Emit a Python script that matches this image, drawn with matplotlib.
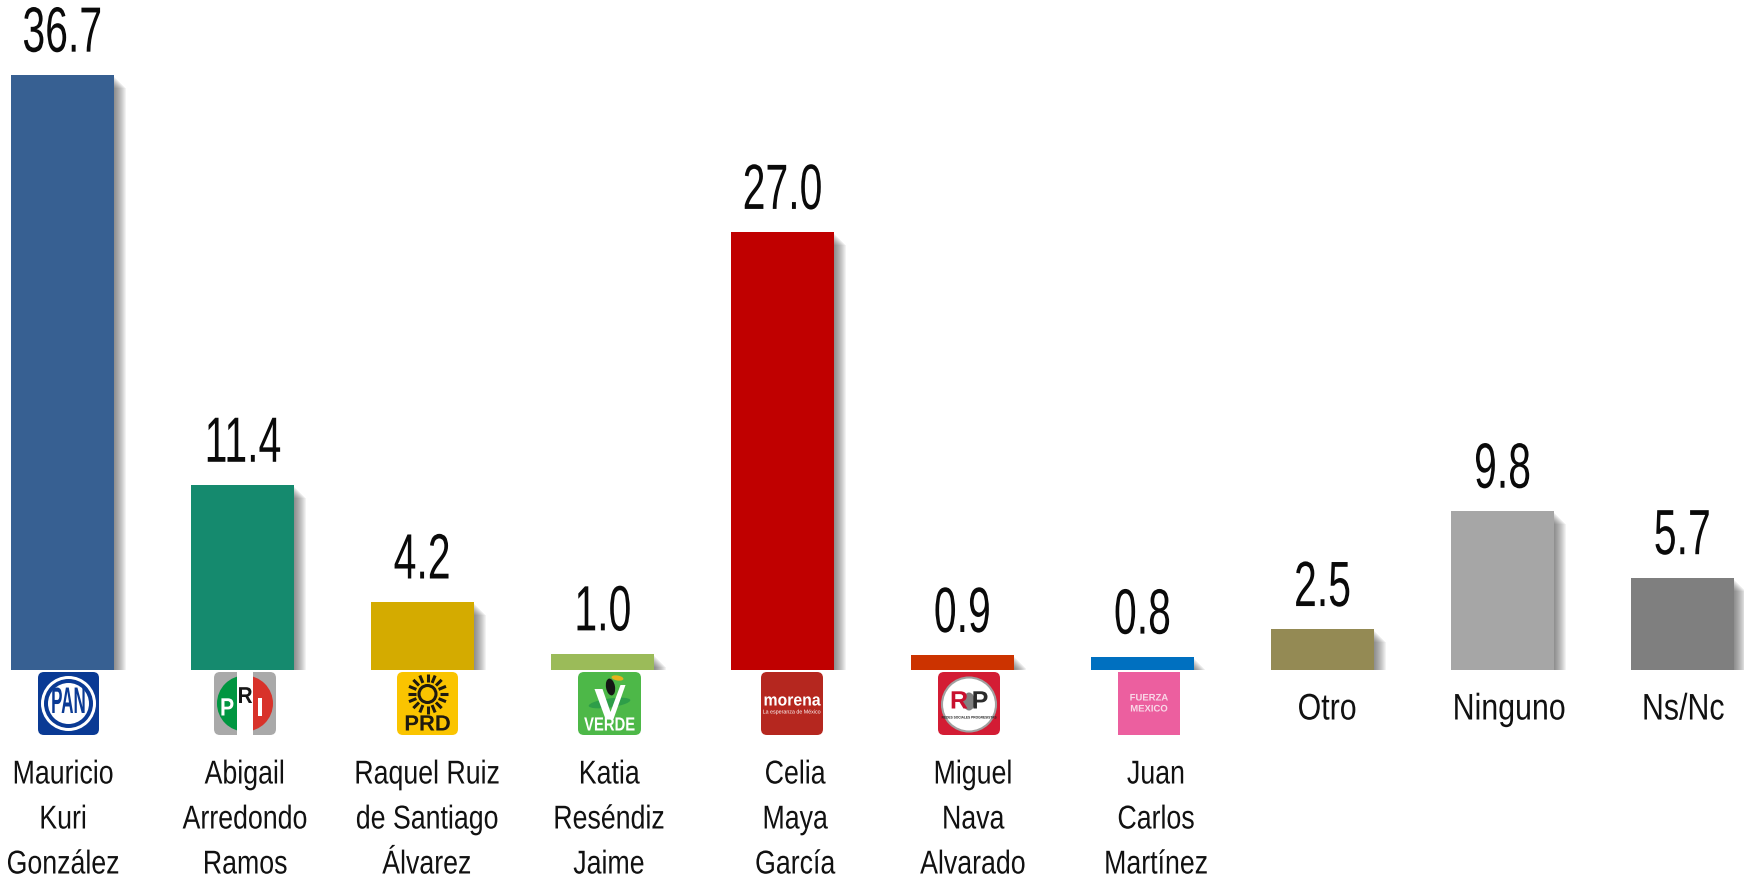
import numpy as np
import matplotlib
matplotlib.use("Agg")
import matplotlib.pyplot as plt
from matplotlib.patches import FancyBboxPatch, Circle, Wedge, Rectangle, Polygon, Ellipse
from matplotlib.patheffects import AbstractPathEffect
from matplotlib.transforms import Affine2D

W, H = 1744, 879
names = ["Mauricio\nKuri\nGonzález", "Abigail\nArredondo\nRamos", "Raquel Ruiz\nde Santiago\nÁlvarez",
         "Katia\nReséndiz\nJaime", "Celia\nMaya\nGarcía", "Miguel\nNava\nAlvarado",
         "Juan\nCarlos\nMartínez", "Otro", "Ninguno", "Ns/Nc"]
values = [36.7, 11.4, 4.2, 1.0, 27.0, 0.9, 0.8, 2.5, 9.8, 5.7]
colors = ["#376092", "#158A6E", "#D4AB00", "#9BBB59", "#C00000", "#CC3300", "#0070C0", "#948A54", "#A6A6A6", "#7F7F7F"]
name_x = [63, 245, 427, 609, 795, 973, 1156, 1327, 1509, 1683]

px_x = 1 / 180      # one pixel in category units
px_y = 1 / 16.21    # one pixel in value units


class Squeeze(AbstractPathEffect):
    # narrows a text around its own centre, the fonts here have no condensed cut
    # dx moves the ink back when the layout box was moved off the figure edge
    def __init__(self, sx, dx=0):
        super().__init__()
        self.sx = sx
        self.dx = dx

    def draw_path(self, renderer, gc, tpath, affine, rgbFace=None):
        ext = tpath.get_extents()
        cx = (ext.x0 + ext.x1) / 2
        aff = Affine2D().translate(-cx, 0).scale(self.sx, 1).translate(cx, 0) + affine
        aff = aff + Affine2D().translate(self.dx, 0)
        renderer.draw_path(gc, tpath, aff, rgbFace)


def fs(px):
    return px * 72 / 100


fig = plt.figure(figsize=(W / 100, H / 100), dpi=100, facecolor="white")
ax = fig.add_axes([0, (H - 671) / H, 1, 671 / H])
ax.set_xlim(-62.5 / 180, (W - 62.5) / 180)
ax.set_ylim(0, 671 * px_y)
ax.axis("off")

xs = np.arange(len(values))
bar_w = 103 / 180
for k in range(1, 13):
    # stacked see-through bars make the soft shadow on the right
    ax.bar(xs + k * px_x / 2, [max(v - (k + 1) * px_y, 0) for v in values], bar_w + k * px_x,
           color="#303030", alpha=0.06, linewidth=0, zorder=1)
ax.bar(xs, values, bar_w, color=colors, linewidth=0, zorder=2)

for x, v in zip(xs, values):
    ax.annotate(f"{v:.1f}", (x, v), xytext=(0, 7.5), textcoords="offset points", ha="center", va="bottom",
                fontsize=fs(64), family="Liberation Sans", color="#0A0A0A",
                path_effects=[Squeeze(0.64)], zorder=3)

top = fig.add_axes([0, 0, 1, 1])
top.set_xlim(0, W)
top.set_ylim(H, 0)
top.axis("off")
top.patch.set_alpha(0)

for x, name in zip(name_x, names):
    lines = name.split("\n")
    if len(lines) == 1:
        top.text(x, 711, lines[0], ha="center", va="center", fontsize=fs(37), family="Liberation Sans",
                 color="#111111", path_effects=[Squeeze(0.82)])
        continue
    # first column sits close to the left edge
    shift = 10 if x < 100 else 0
    for y, line in zip([776, 821, 866], lines):
        top.text(x + shift, y, line, ha="center", va="center", fontsize=fs(33), family="Liberation Sans",
                 color="#111111", path_effects=[Squeeze(0.81, -shift)])


def box(x0, x1, color, y0=673, y1=736, round_px=6):
    top.add_patch(FancyBboxPatch((x0 + round_px, y0 + round_px), x1 - x0 - 2 * round_px, y1 - y0 - 2 * round_px,
                                 boxstyle=f"round,pad={round_px}", fc=color, ec="none"))


def tag(x, y, s, px, color, sx=1.0, weight="bold"):
    top.text(x, y, s, ha="center", va="center", fontsize=fs(px), family="Liberation Sans", weight=weight,
             color=color, path_effects=[Squeeze(sx)])


# PAN
box(38, 99, "#0A3A94")
cx, cy = 68.5, 704.5
top.add_patch(Circle((cx, cy), 27.5, fc="white", ec="none"))
top.add_patch(Circle((cx, cy), 24.5, fc="#0A3A94", ec="none"))
top.add_patch(Circle((cx, cy), 20.5, fc="white", ec="none"))
tag(cx, cy, "PAN", 37, "#0A3A94", 0.46)

# PRI
box(214, 276, "#A9A9A9")
cx = 245
top.add_patch(Wedge((cx, cy), 28, 90, 270, fc="#009640", ec="none"))
top.add_patch(Wedge((cx, cy), 28, -90, 90, fc="#D8322A", ec="none"))
top.add_patch(Rectangle((cx - 8, 673), 16, 63, fc="white", ec="none"))
tag(cx - 18, cy + 5, "P", 25, "white", 0.85)
tag(cx, cy - 7, "R", 23, "#161616", 0.9)
tag(cx + 15, cy + 5, "I", 25, "white", 0.9)

# PRD
box(397, 458, "#FAC400")
cx = 427.5
sun_y = 695
for a in np.deg2rad(np.arange(0, 360, 22.5)):
    top.plot([cx + 12 * np.cos(a), cx + 20 * np.cos(a)], [sun_y + 12 * np.sin(a), sun_y + 20 * np.sin(a)],
             color="#1E1A10", lw=2.2, solid_capstyle="butt")
top.add_patch(Circle((cx, sun_y), 8.5, fc="#FAC400", ec="#1E1A10", lw=2.2))
tag(cx, 726, "PRD", 22, "#1E1A10", 1.0)

# VERDE
box(578, 641, "#4DB848")
cx = 609.5
top.add_patch(Ellipse((cx, 704), 42, 9, angle=-8, fc="#2E9E48", ec="none"))
top.add_patch(Polygon([[cx - 15, 690], [cx - 7, 690], [cx + 1, 713], [cx + 11, 686], [cx + 16, 686], [cx + 4, 720],
                       [cx - 4, 720]], fc="white", ec="none"))
top.add_patch(Ellipse((cx + 1, 688), 9, 17, angle=-10, fc="#151515", ec="none"))
top.add_patch(Ellipse((cx + 8, 679), 12, 5, angle=10, fc="#E5B21C", ec="none"))
tag(cx, 727, "VERDE", 19, "white", 0.78)

# morena
box(761, 823, "#B5271F")
tag(792, 702, "morena", 17, "white", 0.93)
tag(792, 713, "La esperanza de México", 5.6, "white", 0.95, "normal")

# RSP
box(938, 1000, "#D31C34")
cx = 969
top.add_patch(Circle((cx, cy + 1), 27, fc="white", ec="#A0A0A0", lw=1.5))
top.add_patch(Ellipse((cx, cy - 2), 12, 18, fc="#808080", ec="none"))
tag(cx - 10, cy - 2, "R", 25, "#C8102E", 1)
tag(cx + 11, cy - 2, "P", 25, "#2B2B2B", 1)
tag(cx, cy + 14, "REDES SOCIALES PROGRESISTAS", 3.6, "#222222", 0.9)

# Fuerza Mexico
top.add_patch(Rectangle((1118, 673), 62, 63, fc="#EC5F9F", ec="none"))
tag(1149, 699, "FUERZA", 9.5, "#F9D8E8", 1.0)
tag(1149, 710, "MEXICO", 9.5, "#F9D8E8", 1.0)

plt.savefig("out.png", dpi=100)
